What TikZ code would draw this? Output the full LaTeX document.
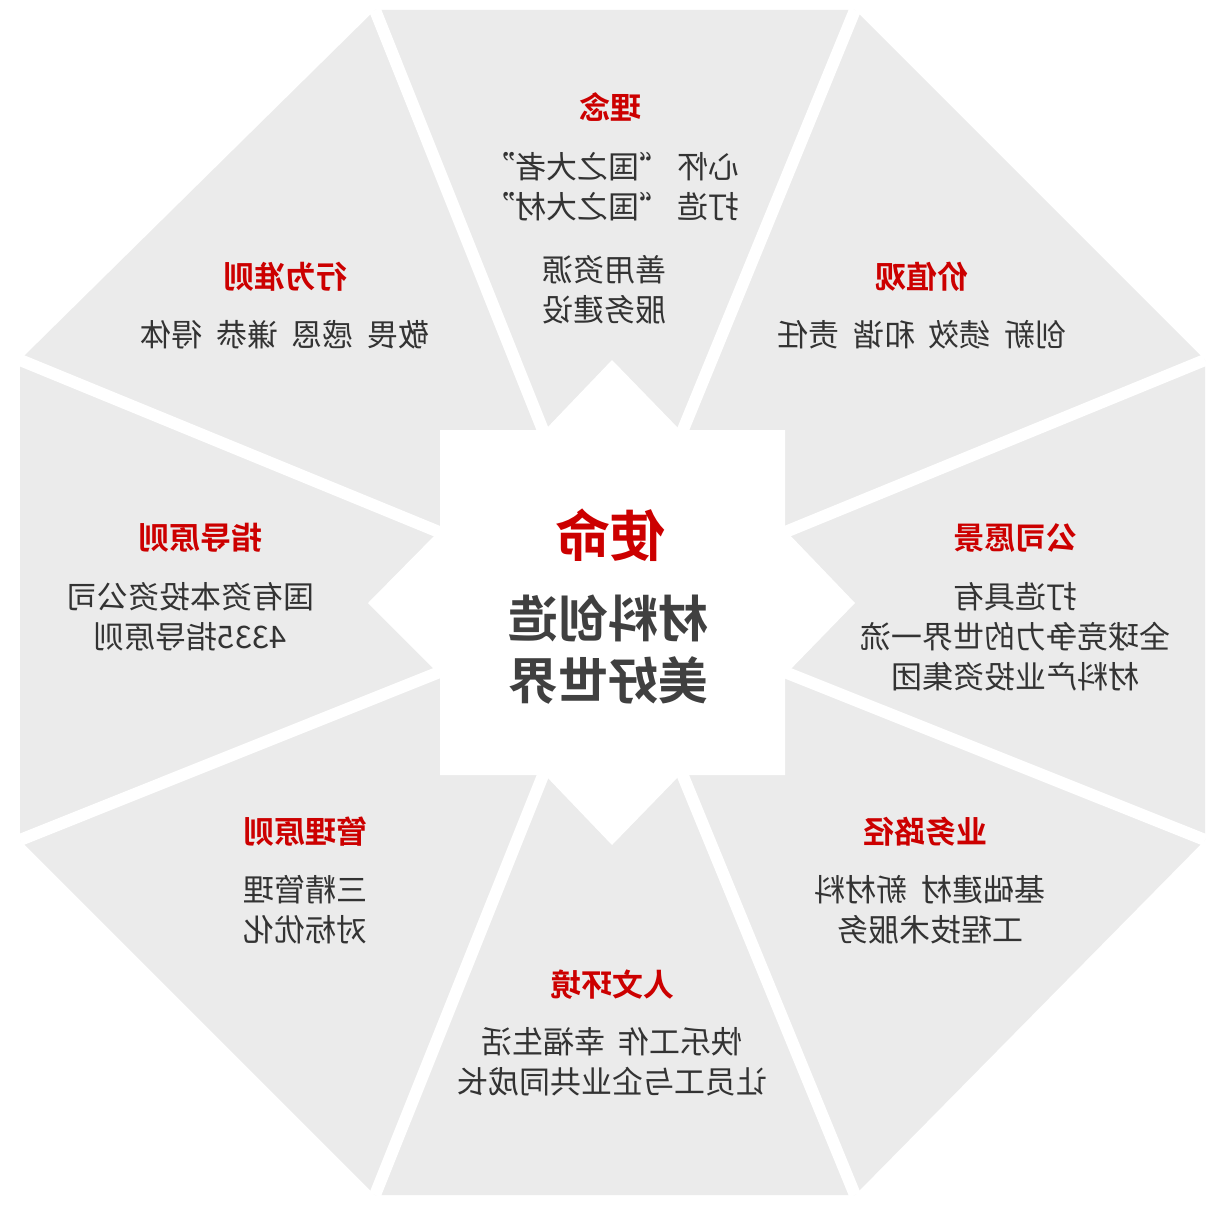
\documentclass[tikz,border=0pt]{standalone}
\usepackage{fontspec}
\setmainfont{Noto Sans CJK SC}[BoldFont={Noto Sans CJK SC Bold}]
\begin{document}
\begin{tikzpicture}[x=1pt,y=1pt,
  mir/.style={xscale=-1,transform shape},
  hd/.style={mir,text=red!80!black,font=\fontsize{31}{34}\selectfont\bfseries},
  bd/.style={mir,text=black!80,font=\fontsize{31}{40}\selectfont,align=center},
  gap/.style={white,line width=12pt}]
\useasboundingbox (0,0) rectangle (1228,-1212);
\coordinate (c) at (612,-603);
\coordinate (v1) at (375,-10); \coordinate (v2) at (855,-10);
\coordinate (v3) at (1205,-360); \coordinate (v4) at (1205,-840);
\coordinate (v5) at (855,-1195); \coordinate (v6) at (375,-1195);
\coordinate (v7) at (20,-840); \coordinate (v8) at (20,-360);
\fill[black!8] (v1)--(v2)--(v3)--(v4)--(v5)--(v6)--(v7)--(v8)--cycle;
\foreach \v in {v1,v2,v3,v4,v5,v6,v7,v8} \draw[gap] (c)--(\v);
\fill[white] (440,-430)--(545,-430)--(612,-360)--(680,-430)--(785,-430)--(785,-530)--(855,-603)--(785,-675)--(785,-775)--(680,-775)--(612,-845)--(545,-775)--(440,-775)--(440,-675)--(368,-603)--(440,-530)--cycle;
% center
\node[mir,text=red!80!black,font=\fontsize{55}{58}\selectfont\bfseries] (m) at (610,-535) {使命};
\node[mir,text=black!75,font=\fontsize{50}{62}\selectfont\bfseries,align=center] (mt) at (608,-650) {材料创造\\美好世界};
% top
\node[hd] (h1) at (610,-107) {理念};
\node[bd] (b1) at (612,-187) {心怀 “国之大者”\\打造 “国之大材”};
\node[bd] (b1b) at (604,-290) {善用资源\\服务建设};
% upper right
\node[hd] (h2) at (922,-277) {价值观};
\node[bd] (b2) at (922,-335) {创新\ \ 绩效\ \ 和谐\ \ 责任};
% right
\node[hd] (h3) at (1015,-538) {公司愿景};
\node[bd] (b3) at (1015,-637) {打造具有\\全球竞争力的世界一流\\材料产业投资集团};
% lower right
\node[hd] (h4) at (925,-832) {业务路径};
\node[bd] (b4) at (930,-910) {基础建材\ \ 新材料\\工程技术服务};
% bottom
\node[hd] (h5) at (612,-985) {人文环境};
\node[bd] (b5) at (612,-1062) {快乐工作\ \ 幸福生活\\让员工与企业共同成长};
% lower left
\node[hd] (h6) at (305,-832) {管理原则};
\node[bd] (b6) at (305,-910) {三精管理\\对标优化};
% left
\node[hd] (h7) at (200,-538) {指导原则};
\node[bd] (b7) at (190,-617) {国有资本投资公司\\4335指导原则};
% upper left
\node[hd] (h8) at (285,-277) {行为准则};
\node[bd] (b8) at (285,-335) {敬畏\ \ 感恩\ \ 谦恭\ \ 得体};
\end{tikzpicture}
\end{document}
